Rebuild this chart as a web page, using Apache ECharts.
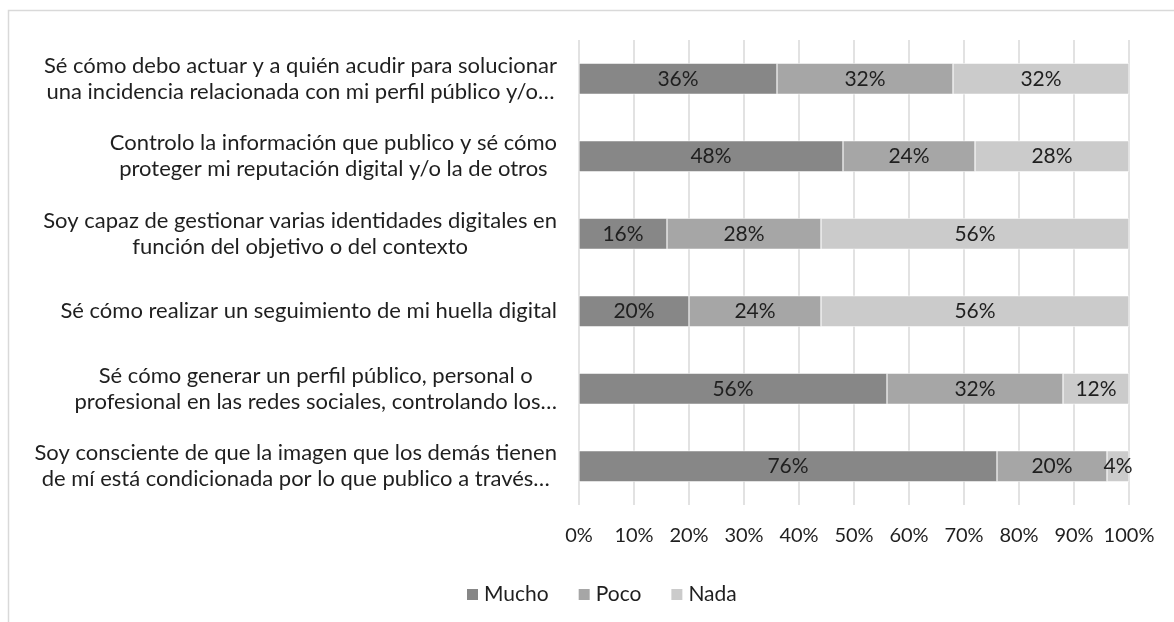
<!DOCTYPE html>
<html>
<head>
<meta charset="utf-8">
<script src="https://cdn.jsdelivr.net/npm/echarts@6/dist/echarts.min.js"></script>
<style>
  html, body { margin: 0; padding: 0; background: #fff; }
  #chart { width: 1174px; height: 622px; }
</style>
</head>
<body>
<div id="chart"></div>
<script>
let categories = [
    'Sé cómo debo actuar y a quién acudir para solucionar\nuna incidencia relacionada con mi perfil público y/o…',
    'Controlo la información que publico y sé cómo\nproteger mi reputación digital y/o la de otros',
    'Soy capaz de gestionar varias identidades digitales en\nfunción del objetivo o del contexto',
    'Sé cómo realizar un seguimiento de mi huella digital',
    'Sé cómo generar un perfil público, personal o\nprofesional en las redes sociales, controlando los…',
    'Soy consciente de que la imagen que los demás tienen\nde mí está condicionada por lo que publico a través…'
]
let mucho = [36, 48, 16, 20, 56, 76]
let poco = [32, 24, 28, 24, 32, 20]
let nada = [32, 28, 56, 56, 12, 4]
let seriesNames = ['Mucho', 'Poco', 'Nada']
let colors = ['#878787', '#a6a6a6', '#cbcbcb']

let font = 'Lato, "Open Sans", sans-serif'
let textColor = '#1f1f1f'

let chart = echarts.init(document.getElementById('chart'))

function makeSeries(name, values, color) {
    return {
        name: name,
        type: 'bar',
        stack: 'total',
        data: values,
        barCategoryGap: '60%',
        itemStyle: {color: color, borderColor: '#ffffff', borderWidth: 0.5},
        label: {
            show: true,
            position: 'inside',
            formatter: '{c}%',
            color: textColor,
            fontFamily: font,
            fontSize: 21
        }
    }
}

let option = {
    animation: false,
    color: colors,
    graphic: [{
        type: 'rect',
        shape: {x: 8.5, y: 10.5, width: 1300, height: 800},
        style: {fill: 'none', stroke: '#d9d9d9', lineWidth: 1.5}
    }],
    legend: {
        data: seriesNames,
        left: 460,
        top: 579,
        itemWidth: 13,
        itemHeight: 13,
        itemGap: 28,
        icon: 'rect',
        textStyle: {color: textColor, fontFamily: font, fontSize: 21}
    },
    grid: {left: 579, right: 45, top: 40, bottom: 117},
    xAxis: {
        type: 'value',
        min: 0,
        max: 100,
        interval: 10,
        axisLine: {show: false},
        axisTick: {show: false},
        splitLine: {lineStyle: {color: '#d9d9d9', width: 1.5}},
        axisLabel: {
            formatter: '{value}%',
            color: textColor,
            fontFamily: font,
            fontSize: 20,
            margin: 21
        }
    },
    yAxis: {
        type: 'category',
        inverse: true,
        data: categories,
        axisLine: {show: false},
        axisTick: {show: false},
        axisLabel: {
            margin: 22,
            formatter: function (value) {
                return value.split('\n').map(function (l) { return '{c|' + l + '}' }).join('\n')
            },
            rich: {
                c: {
                    align: 'center',
                    color: textColor,
                    fontFamily: font,
                    fontSize: 22,
                    lineHeight: 26
                }
            }
        }
    },
    series: [
        makeSeries(seriesNames[0], mucho, colors[0]),
        makeSeries(seriesNames[1], poco, colors[1]),
        makeSeries(seriesNames[2], nada, colors[2])
    ]
}
chart.setOption(option)
</script>
</body>
</html>
